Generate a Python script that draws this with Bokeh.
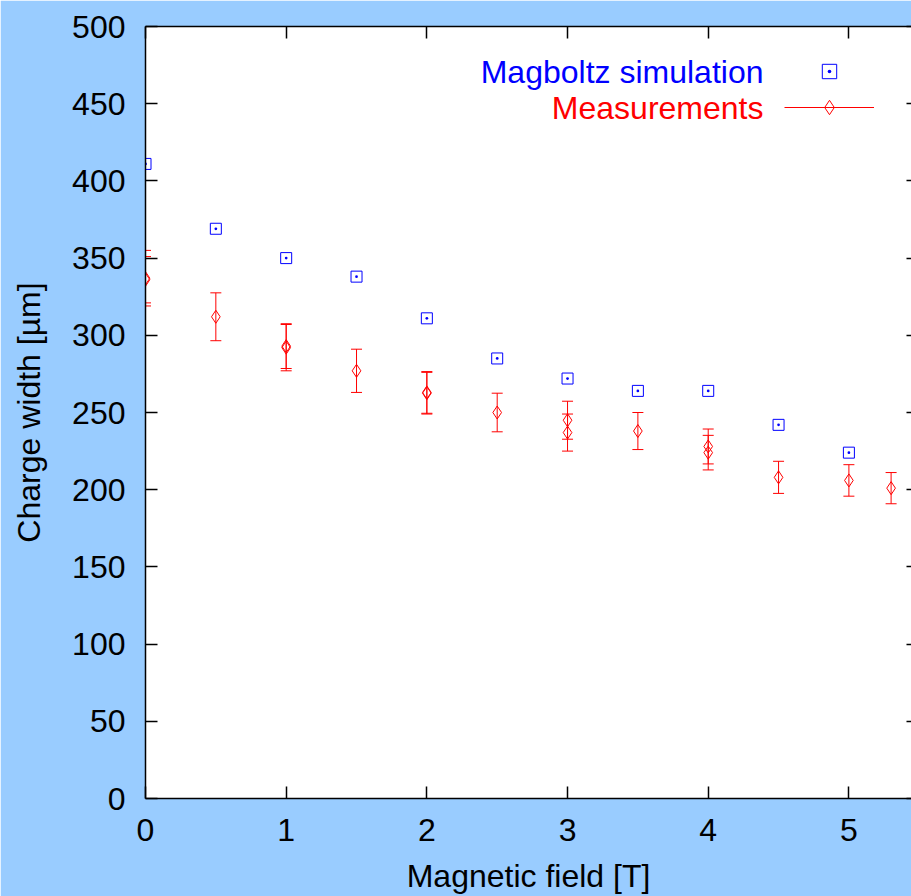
from bokeh.plotting import figure
from bokeh.models import (Range1d, LinearAxis, Legend, LegendItem, Label,
                          FixedTicker, ColumnDataSource)
from bokeh.embed import file_html
from bokeh.resources import INLINE

# ---- data ----
sim_field = [0, 0.5, 1, 1.5, 2, 2.5, 3, 3.5, 4, 4.5, 5]
sim_width = [411, 369, 350, 338, 311, 285, 272, 264, 264, 242, 224]

meas_field = [0, 0, 0.5, 1, 1, 1.5, 2, 2, 2.5, 3, 3, 3.5, 4, 4, 4.5, 5, 5.3]
meas_width = [337, 336, 312, 293, 292, 277, 263, 262.5, 250, 245, 237, 238, 228, 224, 208, 206, 201]
meas_err = [18, 15, 15.5, 14.5, 15, 14, 13.5, 13.5, 12.5, 12.3, 12, 12, 11.3, 11.2, 10.4, 10.2, 10.1]

x_ticks = [0, 1, 2, 3, 4, 5]
y_ticks = [0, 50, 100, 150, 200, 250, 300, 350, 400, 450, 500]

FONT = "Liberation Sans"
BG = "#99ccff"

p = figure(width=911, height=896, output_backend="svg", toolbar_location=None,
           x_range=Range1d(0, 5.445), y_range=Range1d(0, 500),
           min_border_left=145, min_border_right=0, min_border_top=26,
           min_border_bottom=97)
p.background_fill_color = "white"
p.border_fill_color = BG
p.outline_line_color = None
p.grid.visible = False

for ax in p.xaxis + p.yaxis:
    ax.major_tick_in = 12
    ax.major_tick_out = 0
    ax.minor_tick_in = 0
    ax.minor_tick_out = 0
    ax.axis_line_width = 1.5
    ax.major_tick_line_width = 1.5
    ax.major_label_text_font = FONT
    ax.major_label_text_font_size = "32px"
    ax.major_label_text_color = "black"
    ax.axis_label_text_font = FONT
    ax.axis_label_text_font_size = "32px"
    ax.axis_label_text_font_style = "normal"
    ax.axis_label_text_color = "black"

p.xaxis.ticker = FixedTicker(ticks=x_ticks)
p.yaxis.ticker = FixedTicker(ticks=y_ticks)
p.xaxis.axis_label = "Magnetic field [T]"
p.yaxis.axis_label = "Charge width [µm]"
p.xaxis.major_label_standoff = 20
p.yaxis.major_label_standoff = 20
p.xaxis.axis_label_standoff = 14
p.yaxis.axis_label_standoff = 22

# mirror ticks (no labels drawn)
top = LinearAxis(ticker=FixedTicker(ticks=x_ticks), major_tick_in=12, major_tick_out=0,
                 minor_tick_in=0, minor_tick_out=0, major_label_text_font_size="0px",
                 major_label_text_color=None, major_label_text_alpha=0,
                 major_label_standoff=0, axis_line_width=1.5, major_tick_line_width=1.5)
p.add_layout(top, "above")
right = LinearAxis(ticker=FixedTicker(ticks=y_ticks), major_tick_in=5, major_tick_out=0,
                   minor_tick_in=0, minor_tick_out=0, major_label_text_font_size="0px",
                   major_label_text_color=None, major_label_text_alpha=0,
                   major_label_standoff=0, axis_line_color=None, major_tick_line_width=1.5)
p.add_layout(right, "right")

# ---- glyphs ----
sim_src = ColumnDataSource(dict(x=sim_field, y=sim_width))
lo = [w - e for w, e in zip(meas_width, meas_err)]
hi = [w + e for w, e in zip(meas_width, meas_err)]
meas_src = ColumnDataSource(dict(x=meas_field, y=meas_width, lo=lo, hi=hi))

r_sim = p.scatter("x", "y", source=sim_src, marker="square_dot", size=11,
                  line_color="#0000ff", fill_color=None, line_width=1)
r_bar = p.segment(x0="x", y0="lo", x1="x", y1="hi", source=meas_src,
                  line_color="#ff0000", line_width=1)
p.scatter("x", "lo", source=meas_src, marker="dash", size=11, line_color="#ff0000", line_width=1)
p.scatter("x", "hi", source=meas_src, marker="dash", size=11, line_color="#ff0000", line_width=1)
r_meas = p.scatter("x", "y", source=meas_src, marker="diamond", size=13,
                   line_color="#ff0000", fill_color=None, line_width=1)

legend = Legend(items=[LegendItem(label=" ", renderers=[r_sim]),
                       LegendItem(label=" ", renderers=[r_bar, r_meas])],
                location=(639, 673), padding=0, margin=0, spacing=0,
                glyph_width=90, glyph_height=36, label_standoff=0, label_width=0,
                label_height=36, label_text_font_size="1px",
                label_text_color=None, label_text_alpha=0,
                background_fill_alpha=0, border_line_color=None)
p.add_layout(legend, "center")

p.add_layout(Label(x=618, y=727, x_units="screen", y_units="screen",
                   text="Magboltz simulation", text_align="right", text_baseline="middle",
                   text_font=FONT, text_font_size="32px", text_color="#0000ff"))
p.add_layout(Label(x=618, y=691, x_units="screen", y_units="screen",
                   text="Measurements", text_align="right", text_baseline="middle",
                   text_font=FONT, text_font_size="32px", text_color="#ff0000"))

open("out.html", "w").write(file_html(p, INLINE))
